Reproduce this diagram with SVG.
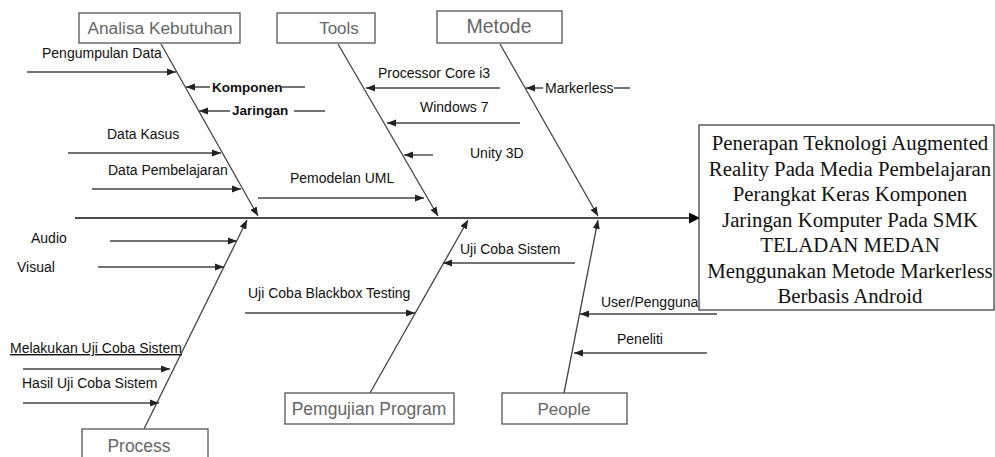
<svg xmlns="http://www.w3.org/2000/svg" width="995" height="457" viewBox="0 0 995 457">
<style>
.box{fill:#fff;stroke:#555;stroke-width:1.3}
.bt{font-family:"Liberation Sans",Arial,sans-serif;fill:#666;text-anchor:middle}
.bone{stroke:#444;stroke-width:1.3;fill:none}
.sub{stroke:#444;stroke-width:1.4;fill:none;marker-end:url(#ah)}
.lb{font-family:"Liberation Sans",Arial,sans-serif;font-size:14px;fill:#111}
.bold{font-weight:bold;font-size:13.5px}
.bg{fill:#fff}
.mt{font-family:"Liberation Serif","Times New Roman",serif;font-size:20.8px;fill:#111;text-anchor:middle}
</style>
<defs>
<marker id="ah" viewBox="0 0 10 8" refX="10" refY="4" markerWidth="9" markerHeight="7.2" orient="auto" markerUnits="userSpaceOnUse"><path d="M0,0 L10,4 L0,8 z" fill="#222"/></marker>
<marker id="ahb" viewBox="0 0 10 10" refX="10" refY="5" markerWidth="11" markerHeight="11" orient="auto" markerUnits="userSpaceOnUse"><path d="M0,0 L10,5 L0,10 z" fill="#000"/></marker>
</defs>
<rect width="995" height="457" fill="#fff"/>

<g id="connectors">
<line x1="75" y1="218" x2="700" y2="218" stroke="#111" stroke-width="1.3" marker-end="url(#ahb)"/>
<line class="bone" x1="161" y1="44" x2="258" y2="216" marker-end="url(#ah)"/>
<line class="bone" x1="338" y1="44" x2="438" y2="216" marker-end="url(#ah)"/>
<line class="bone" x1="500" y1="44" x2="598" y2="216" marker-end="url(#ah)"/>
<line class="bone" x1="144" y1="429" x2="247" y2="220" marker-end="url(#ah)"/>
<line class="bone" x1="370" y1="393" x2="468" y2="220" marker-end="url(#ah)"/>
<line class="bone" x1="564" y1="393" x2="598" y2="220" marker-end="url(#ah)"/>

<line class="sub" x1="27" y1="72" x2="176" y2="72"/>
<line class="sub" x1="305" y1="87" x2="186" y2="87"/>
<line class="sub" x1="325" y1="111" x2="199" y2="111" stroke="#777"/>
<line class="sub" x1="68" y1="153" x2="221" y2="153"/>
<line class="sub" x1="92" y1="189" x2="241" y2="189"/>
<line class="sub" x1="258" y1="198" x2="424" y2="198"/>
<line class="sub" x1="500" y1="88" x2="366" y2="88"/>
<line class="sub" x1="520" y1="123" x2="387" y2="123"/>
<line class="sub" x1="433" y1="155" x2="404" y2="155"/>
<line class="sub" x1="630" y1="88" x2="526" y2="88"/>
<line class="sub" x1="110" y1="241" x2="237" y2="241"/>
<line class="sub" x1="98" y1="267" x2="224" y2="267"/>
<line class="sub" x1="245" y1="313" x2="415" y2="313"/>
<line class="sub" x1="575" y1="263" x2="443" y2="263"/>
<line class="sub" x1="23" y1="369" x2="170" y2="369"/>
<line class="sub" x1="23" y1="403" x2="159" y2="403"/>
<line class="sub" x1="717" y1="314" x2="580" y2="314"/>
<line class="sub" x1="707" y1="353" x2="574" y2="353"/>
</g>

<g id="analisa-kebutuhan"><rect class="box" x="79" y="13" width="161" height="30"/><text class="bt" x="160" y="34" font-size="17.3">Analisa Kebutuhan</text></g>
<g id="tools"><rect class="box" x="277" y="13" width="98" height="30"/><text class="bt" x="339" y="34" font-size="17">Tools</text></g>
<g id="metode"><rect class="box" x="437" y="11" width="125" height="32"/><text class="bt" x="499" y="33" font-size="19.5">Metode</text></g>
<g id="pengujian-program"><rect class="box" x="285" y="393" width="169" height="31"/><text class="bt" x="369" y="415" font-size="17.5">Pemgujian Program</text></g>
<g id="people"><rect class="box" x="502" y="393" width="125" height="31"/><text class="bt" x="564" y="415" font-size="17">People</text></g>
<g id="process"><rect class="box" x="82" y="429" width="126" height="40"/><text class="bt" x="139" y="452" font-size="17.5">Process</text></g>

<g id="label-pengumpulan-data"><text class="lb" x="42" y="58">Pengumpulan  Data</text></g>
<g id="label-komponen"><rect class="bg" x="210" y="79" width="72" height="16"/><text class="lb bold" x="212" y="92">Komponen</text></g>
<g id="label-jaringan"><rect class="bg" x="230" y="102" width="64" height="17"/><text class="lb bold" x="232" y="115" font-size="14">Jaringan</text></g>
<g id="label-data-kasus"><text class="lb" x="107" y="139">Data Kasus</text></g>
<g id="label-data-pembelajaran"><text class="lb" x="108" y="175">Data Pembelajaran</text></g>
<g id="label-pemodelan-uml"><text class="lb" x="290" y="183">Pemodelan  UML</text></g>
<g id="label-processor"><text class="lb" x="378" y="78">Processor Core i3</text></g>
<g id="label-windows"><text class="lb" x="420" y="112">Windows 7</text></g>
<g id="label-unity"><text class="lb" x="470" y="158">Unity 3D</text></g>
<g id="label-markerless"><rect class="bg" x="543" y="80" width="71" height="16"/><text class="lb" x="545" y="93">Markerless</text></g>
<g id="label-audio"><text class="lb" x="31" y="243">Audio</text></g>
<g id="label-visual"><text class="lb" x="17" y="272">Visual</text></g>
<g id="label-blackbox"><text class="lb" x="248" y="298">Uji Coba Blackbox Testing</text></g>
<g id="label-uji-coba-sistem"><text class="lb" x="460" y="254">Uji Coba Sistem</text></g>
<g id="label-melakukan"><text class="lb" x="10" y="353" text-decoration="underline">Melakukan Uji Coba Sistem</text></g>
<g id="label-hasil"><text class="lb" x="22" y="388">Hasil Uji Coba Sistem</text></g>
<g id="label-user"><text class="lb" x="601" y="307">User/Pengguna</text></g>
<g id="label-peneliti"><text class="lb" x="617" y="344">Peneliti</text></g>

<g id="result"><rect x="699" y="125" width="295" height="185" fill="#fff" stroke="#333" stroke-width="1.2"/>
<text class="mt" x="850" y="150">Penerapan Teknologi Augmented</text>
<text class="mt" x="850" y="176">Reality Pada Media Pembelajaran</text>
<text class="mt" x="850" y="201">Perangkat Keras Komponen</text>
<text class="mt" x="850" y="227">Jaringan Komputer Pada SMK</text>
<text class="mt" x="850" y="252">TELADAN MEDAN</text>
<text class="mt" x="850" y="278">Menggunakan Metode Markerless</text>
<text class="mt" x="850" y="303">Berbasis Android</text>
</g>
</svg>
